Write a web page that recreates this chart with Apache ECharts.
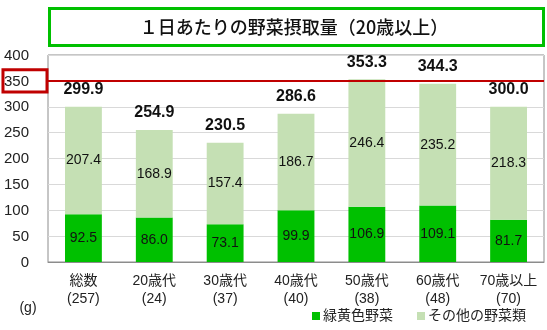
<!DOCTYPE html>
<html>
<head>
<meta charset="utf-8">
<script src="https://cdn.jsdelivr.net/npm/echarts@6/dist/echarts.min.js"></script>
<style>
  html, body { margin: 0; padding: 0; background: #fff; }
  #chart { width: 547px; height: 330px; }
</style>
</head>
<body>
<div id="chart"></div>
<script>
// Daily vegetable intake by age group (grams)
const categories = ['総数\n(257)', '20歳代\n(24)', '30歳代\n(37)', '40歳代\n(40)', '50歳代\n(38)', '60歳代\n(48)', '70歳以上\n(70)'];
const greenYellow = [92.5, 86.0, 73.1, 99.9, 106.9, 109.1, 81.7];
const otherVeg = [207.4, 168.9, 157.4, 186.7, 246.4, 235.2, 218.3];
const targetLine = 350;
const yTicks = { min: 0, max: 400, interval: 50 };

const totals = greenYellow.map((v, i) => +(v + otherVeg[i]).toFixed(1));

const FONT = "'Liberation Sans', 'Noto Sans CJK JP', sans-serif";
const DARK = '#00c000';
const LIGHT = '#c5e0b4';
const RED = '#c00000';

// shared box for every y label so the highlighted one lines up with the rest
const labelBox = { fontSize: 15, color: '#222', padding: [4, 18, 3, 1] };

const chart = echarts.init(document.getElementById('chart'));
chart.setOption({
  animation: false,
  textStyle: { fontFamily: FONT },
  grid: {
    left: 48, right: 3, top: 55, bottom: 68,
    outerBoundsMode: 'none',
    containLabel: false,
    show: true, borderColor: '#8c8c8c', borderWidth: 1
  },
  graphic: [
    {
      type: 'rect',
      shape: { x: 49.5, y: 8.5, width: 494, height: 37 },
      style: { fill: '#fff', stroke: '#00c000', lineWidth: 3 }
    },
    {
      type: 'text',
      x: 294, y: 27,
      style: {
        text: '１日あたりの野菜摂取量（20歳以上）',
        font: "500 18px 'Noto Sans CJK JP', sans-serif",
        fill: '#111', align: 'center', verticalAlign: 'middle'
      }
    },
    {
      type: 'text',
      x: 28, y: 308,
      style: {
        text: '(g)',
        font: "14px " + FONT,
        fill: '#222', align: 'center', verticalAlign: 'middle'
      }
    }
  ],
  legend: {
    data: ['緑黄色野菜', 'その他の野菜類'],
    right: 16, bottom: 2,
    icon: 'rect', itemWidth: 8, itemHeight: 8, itemGap: 24,
    textStyle: { fontSize: 14, color: '#222', fontFamily: FONT, padding: [0, 0, 0, -2] }
  },
  xAxis: {
    type: 'category',
    data: categories,
    axisLine: { lineStyle: { color: '#8c8c8c' } },
    axisTick: { show: false },
    axisLabel: { color: '#222', fontSize: 14, lineHeight: 18, margin: 10, interval: 0 }
  },
  yAxis: {
    type: 'value',
    min: yTicks.min, max: yTicks.max, interval: yTicks.interval,
    axisLine: { show: false },
    axisTick: { show: false },
    splitLine: { lineStyle: { color: '#d9d9d9' } },
    axisLabel: {
      color: '#222', fontSize: 15, margin: 1,
      formatter: v => v === targetLine ? '{hl|' + v + '}' : '{n|' + v + '}',
      rich: {
        n: Object.assign({}, labelBox, { borderColor: 'transparent', borderWidth: 3 }),
        hl: Object.assign({}, labelBox, { borderColor: RED, borderWidth: 3 })
      }
    }
  },
  series: [
    {
      name: '緑黄色野菜',
      type: 'bar',
      stack: 'veg',
      barWidth: '52%',
      data: greenYellow,
      itemStyle: { color: DARK },
      label: { show: true, position: 'inside', color: '#111', fontSize: 14, formatter: p => p.value.toFixed(1) }
    },
    {
      name: 'その他の野菜類',
      type: 'bar',
      stack: 'veg',
      data: otherVeg,
      itemStyle: { color: LIGHT },
      label: { show: true, position: 'inside', color: '#111', fontSize: 14, formatter: p => p.value.toFixed(1) },
      markLine: {
        silent: true,
        symbol: 'none',
        label: { show: false },
        lineStyle: { color: RED, width: 2, type: 'solid' },
        data: [{ yAxis: targetLine }],
        z: 10
      }
    },
    {
      name: 'total',
      type: 'bar',
      stack: 'veg',
      data: totals.map(() => 0),
      itemStyle: { color: 'transparent' },
      label: {
        show: true, position: 'top', distance: 9,
        color: '#111', fontSize: 16, fontWeight: 'bold',
        formatter: p => totals[p.dataIndex].toFixed(1)
      }
    }
  ]
});
</script>
</body>
</html>
